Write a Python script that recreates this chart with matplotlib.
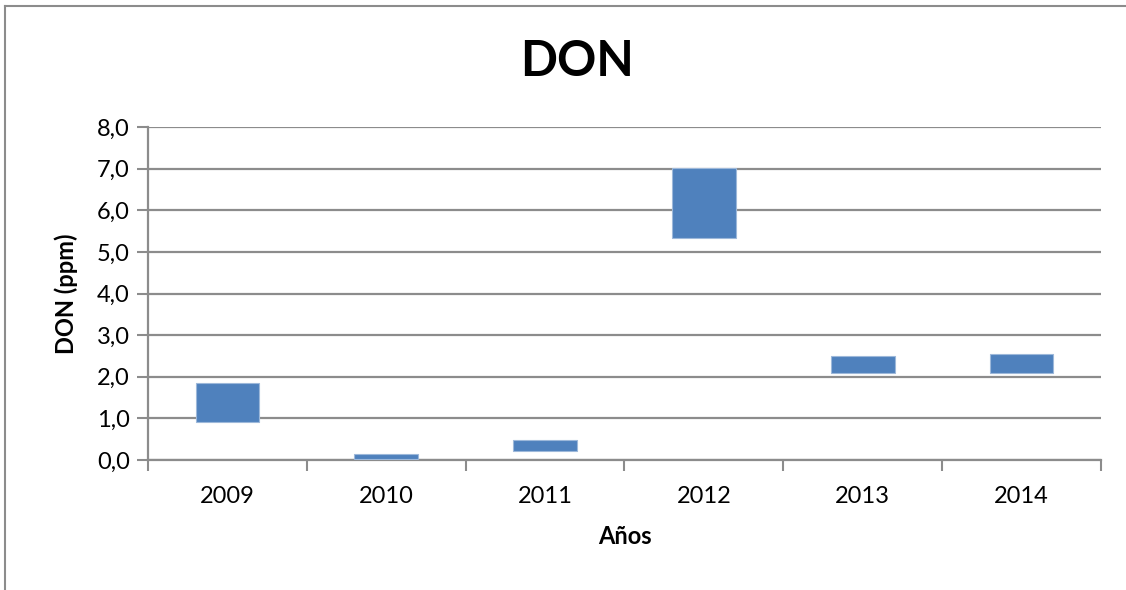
import matplotlib.pyplot as plt
import numpy as np
from matplotlib.lines import Line2D

# datos: rango min-max de DON por año
anios = ['2009', '2010', '2011', '2012', '2013', '2014']
don_min = [0.92, 0.03, 0.22, 5.33, 2.08, 2.08]
don_max = [1.86, 0.15, 0.48, 7.02, 2.51, 2.54]
y_ticks = [0, 1, 2, 3, 4, 5, 6, 7, 8]

plt.rcParams['font.family'] = ['Lato', 'DejaVu Sans']

fig = plt.figure(figsize=(11.26, 5.9), dpi=100)
ax = fig.add_axes([148 / 1126, 1 - 460 / 590, (1101 - 148) / 1126, (460 - 127) / 590])

x = np.arange(len(anios))
alturas = np.array(don_max) - np.array(don_min)
ax.bar(x, alturas, bottom=don_min, width=0.4, color='#4F81BD',
       edgecolor='#9DB8DA', linewidth=0.8, zorder=3)

ax.set_xlim(-0.5, len(anios) - 0.5)
ax.set_ylim(0, 8)
ax.set_yticks(y_ticks)
ax.set_yticklabels([f'{v:.1f}'.replace('.', ',') for v in y_ticks])

# marcas del eje x en los límites de categorías
ax.set_xticks(np.arange(-0.5, len(anios)), minor=False)
ax.set_xticklabels([])
ax.set_xticks(x, minor=True)
ax.set_xticklabels(anios, minor=True)
ax.tick_params(axis='x', which='major', length=8, width=1.5, color='#8C8C8C', direction='out')
ax.tick_params(axis='x', which='minor', length=0, labelsize=17, pad=19)
ax.tick_params(axis='y', length=8, width=1.5, color='#8C8C8C', labelsize=17, pad=5)

ax.grid(axis='y', color='#8C8C8C', linewidth=1.6, zorder=1)
ax.set_axisbelow(True)
for s in ['top', 'right']:
    ax.spines[s].set_visible(False)
for s in ['left', 'bottom']:
    ax.spines[s].set_color('#8C8C8C')
    ax.spines[s].set_linewidth(1.6)

ax.set_ylabel('DON (ppm)', fontsize=17, fontweight='bold', labelpad=14)
ax.set_xlabel('Años', fontsize=17, fontweight='bold', labelpad=13)
fig.text(0.5125, 0.895, 'DON', ha='center', va='center', fontsize=35, fontweight='bold')

# marco exterior del gráfico
fig.add_artist(Line2D([5 / 1126, 5 / 1126], [0, 1 - 6 / 590], transform=fig.transFigure,
                      color='#8C8C8C', linewidth=1.5))
fig.add_artist(Line2D([5 / 1126, 1], [1 - 6 / 590, 1 - 6 / 590], transform=fig.transFigure,
                      color='#8C8C8C', linewidth=1.5))

plt.savefig('out.png', dpi=100)
